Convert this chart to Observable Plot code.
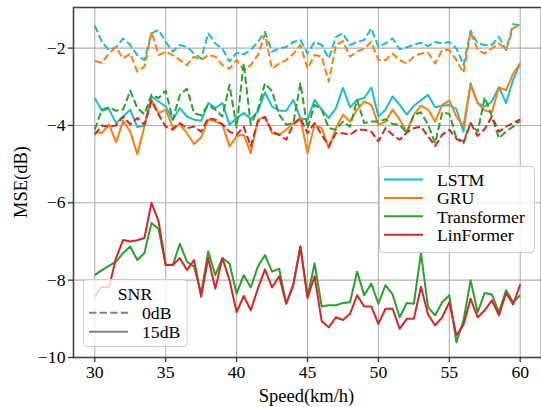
<!DOCTYPE html>
<html>
<head>
<meta charset="utf-8">
<script src="https://cdn.jsdelivr.net/npm/d3@7"></script>
<script src="https://cdn.jsdelivr.net/npm/@observablehq/plot@0.6"></script>
<style>
  body { margin: 0; background: #fff; }
  #chart { width: 541px; height: 407px; }
</style>
</head>
<body>
<div id="chart"></div>
<script>
// Speed grid (km/h), one sample every 0.5 km/h
const speeds = d3.range(30, 60.25, 0.5);

const models = ["LSTM", "GRU", "Transformer", "LinFormer"];
const modelColors = ["#17becf", "#ff7f0e", "#2ca02c", "#d62728"];
const snrLevels = ["0dB", "15dB"];

const xTicks = [30, 35, 40, 45, 50, 55, 60];
const yTicks = [-10, -8, -6, -4, -2];

// MSE (dB) at SNR = 0 dB
const lstm0dB = [
  -1.41, -1.84, -2.05, -1.98, -1.75, -1.92, -2.18, -2.31, -1.62, -1.53,
  -1.84, -2.09, -1.92, -1.97, -2.14, -2.27, -1.62, -1.88, -2.01, -2.35,
  -2.12, -2.16, -2.05, -1.84, -1.58, -2.09, -2.01, -1.97, -1.84, -1.79,
  -2.14, -1.84, -1.92, -2.27, -1.71, -1.62, -1.92, -1.84, -1.79, -1.49,
  -1.97, -1.88, -1.75, -2.03, -1.98, -1.91, -1.86, -1.95, -1.84, -1.88,
  -1.84, -2.01, -2.44, -1.55, -1.88, -1.92, -1.92, -1.71, -2.05, -1.38, -1.41
];
const gru0dB = [
  -2.33, -2.38, -2.14, -1.98, -2.27, -2.14, -2.61, -2.48, -1.58, -2.18,
  -2.09, -2.18, -2.31, -2.44, -2.22, -2.31, -2.18, -2.22, -2.44, -2.53,
  -2.31, -2.57, -2.44, -2.18, -1.64, -2.53, -2.40, -2.31, -2.14, -1.92,
  -2.53, -2.18, -2.22, -2.87, -1.92, -1.82, -2.22, -2.09, -2.01, -1.84,
  -2.31, -2.31, -2.14, -2.31, -2.40, -2.22, -2.14, -2.12, -2.40, -2.05,
  -2.05, -2.31, -2.64, -1.58, -2.05, -2.14, -2.01, -1.88, -2.05, -1.49, -1.38
];
const transformer0dB = [
  -4.11, -3.59, -3.53, -3.62, -3.59, -3.10, -3.55, -3.71, -3.21, -3.29,
  -3.10, -3.85, -3.21, -3.05, -3.68, -3.74, -3.47, -3.59, -3.77, -2.95,
  -4.05, -2.39, -3.98, -3.59, -2.91, -3.12, -3.72, -3.98, -3.94, -2.91,
  -4.07, -3.47, -3.59, -4.07, -4.11, -3.90, -4.03, -3.34, -3.94, -3.90,
  -3.90, -3.84, -3.96, -3.98, -4.20, -3.72, -3.66, -3.98, -4.46, -3.66,
  -3.70, -4.33, -4.41, -3.94, -4.16, -3.27, -3.77, -4.33, -4.16, -4.03, -3.87
];
const linformer0dB = [
  -4.24, -4.00, -4.03, -4.00, -3.77, -3.97, -3.81, -3.98, -3.36, -3.72,
  -4.03, -4.11, -3.94, -4.07, -4.03, -4.16, -3.81, -3.85, -3.97, -4.16,
  -4.24, -4.03, -4.54, -3.90, -3.78, -4.16, -4.24, -4.37, -3.98, -3.81,
  -4.20, -3.94, -4.24, -4.54, -4.20, -4.20, -4.24, -4.11, -4.11, -4.16,
  -4.41, -4.07, -4.24, -4.37, -4.18, -4.07, -4.03, -4.28, -4.53, -4.24,
  -4.11, -4.34, -4.46, -3.94, -4.27, -4.09, -3.77, -4.16, -4.03, -3.94, -3.84
];

// MSE (dB) at SNR = 15 dB
const lstm15dB = [
  -3.29, -3.62, -3.57, -3.94, -3.77, -3.59, -4.04, -4.00, -3.25, -3.38,
  -3.51, -3.85, -3.55, -3.77, -3.85, -3.88, -3.42, -3.55, -3.42, -3.98,
  -3.81, -3.68, -3.83, -3.64, -3.14, -3.51, -3.62, -3.62, -3.34, -3.81,
  -3.85, -3.34, -3.59, -3.81, -3.55, -3.03, -3.53, -3.34, -3.29, -3.02,
  -3.77, -3.59, -3.25, -3.47, -3.72, -3.49, -3.35, -3.21, -3.53, -3.49,
  -3.47, -3.58, -4.16, -2.91, -3.42, -3.51, -3.38, -3.01, -3.42, -2.82, -2.39
];
const gru15dB = [
  -4.16, -4.20, -3.97, -4.43, -3.88, -4.16, -4.74, -4.03, -3.34, -3.68,
  -3.59, -4.05, -3.98, -4.20, -4.48, -4.31, -3.85, -3.90, -3.98, -4.54,
  -4.28, -4.24, -4.72, -3.85, -3.78, -4.20, -4.24, -4.11, -3.94, -3.81,
  -4.72, -3.98, -4.07, -4.59, -4.07, -3.72, -3.90, -3.59, -3.38, -3.47,
  -3.98, -3.90, -3.59, -3.85, -4.16, -3.72, -3.49, -3.59, -3.90, -3.47,
  -3.35, -3.77, -4.01, -2.95, -3.42, -3.61, -3.66, -3.02, -3.09, -2.66, -2.39
];
const transformer15dB = [
  -7.87, -7.74, -7.63, -7.52, -7.30, -7.13, -7.48, -7.30, -6.52, -6.68,
  -7.61, -7.61, -7.06, -7.52, -7.65, -8.35, -7.26, -7.87, -7.43, -7.57,
  -8.35, -7.87, -8.19, -7.65, -7.35, -7.78, -7.70, -8.61, -8.13, -7.13,
  -8.43, -7.57, -8.68, -8.65, -8.65, -8.59, -8.57, -7.78, -8.39, -8.09,
  -8.61, -8.13, -8.37, -8.96, -8.59, -8.61, -7.30, -8.70, -8.91, -8.57,
  -8.39, -9.61, -9.04, -8.00, -8.83, -8.33, -8.37, -8.83, -8.26, -8.57, -8.39
];
const linformer15dB = [
  -8.43, -8.17, -8.19, -7.43, -6.96, -7.00, -6.97, -6.91, -6.00, -6.48,
  -7.61, -7.61, -7.43, -7.74, -7.48, -8.43, -7.43, -8.22, -7.43, -8.00,
  -8.83, -8.41, -8.78, -8.22, -7.72, -8.19, -7.90, -8.61, -8.11, -7.13,
  -8.46, -7.90, -9.06, -9.22, -8.96, -9.03, -8.87, -8.39, -8.68, -8.68,
  -9.13, -8.74, -8.74, -9.26, -9.00, -9.00, -8.17, -8.89, -9.17, -8.96,
  -8.57, -9.43, -9.15, -8.48, -8.96, -8.78, -8.52, -8.91, -8.33, -8.63, -8.11
];

const curves = [
  {model: "LSTM", snr: "0dB", values: lstm0dB},
  {model: "LSTM", snr: "15dB", values: lstm15dB},
  {model: "GRU", snr: "0dB", values: gru0dB},
  {model: "GRU", snr: "15dB", values: gru15dB},
  {model: "Transformer", snr: "0dB", values: transformer0dB},
  {model: "Transformer", snr: "15dB", values: transformer15dB},
  {model: "LinFormer", snr: "0dB", values: linformer0dB},
  {model: "LinFormer", snr: "15dB", values: linformer15dB}
];

const FONT = '"Liberation Serif", "Times New Roman", serif';
const dash = "7.4,3.2";

const lineMarks = curves.map(c => Plot.line(
  speeds.map((s, i) => ({speed: s, mse: c.values[i], model: c.model})),
  {
    x: "speed", y: "mse", stroke: "model",
    strokeWidth: 2, strokeLinejoin: "round", strokeLinecap: "butt",
    strokeDasharray: c.snr === "0dB" ? dash : null
  }
));

const chart = Plot.plot({
  width: 541,
  height: 407,
  marginLeft: 73,
  marginRight: 0,
  marginTop: 7,
  marginBottom: 50,
  style: {fontFamily: FONT, fontSize: "17.7px", color: "#000", background: "#fff"},
  x: {domain: [28.5, 61.5]},
  y: {domain: [-10, -0.95]},
  color: {domain: models, range: modelColors},
  marks: [
    Plot.gridX(xTicks, {stroke: "#b0b0b0", strokeOpacity: 1, strokeWidth: 1.1}),
    Plot.gridY(yTicks, {stroke: "#b0b0b0", strokeOpacity: 1, strokeWidth: 1.1}),
    ...lineMarks,
    Plot.frame({stroke: "#444", strokeWidth: 1.6}),
    Plot.axisX(xTicks, {tickSize: 5, tickPadding: 3, label: null, stroke: "#333", strokeWidth: 1.3}),
    Plot.axisY(yTicks, {tickSize: 5, tickPadding: 3, label: null, stroke: "#333", strokeWidth: 1.3})
  ]
});

document.getElementById("chart").appendChild(chart);

// Axis titles and legends drawn on top of the plot area
const svg = d3.select(chart);
const xScale = chart.scale("x"), yScale = chart.scale("y");
const plotLeft = xScale.range[0], plotRight = xScale.range[1];
const plotTop = yScale.range[1], plotBottom = yScale.range[0];

function addText(x, y, label, anchor, size = "17.7px") {
  return svg.append("text")
    .attr("x", x).attr("y", y)
    .attr("text-anchor", anchor)
    .style("font-family", FONT).style("font-size", size).attr("fill", "#000")
    .text(label);
}

addText((plotLeft + plotRight) / 2 - 0.5, 402, "Speed(km/h)", "middle", "18.5px");
addText(0, 0, "MSE(dB)", "middle", "18.5px")
  .attr("transform", `translate(27,${(plotTop + plotBottom) / 2}) rotate(-90)`);

function legendBox(x, y, w, h) {
  svg.append("rect")
    .attr("x", x).attr("y", y).attr("width", w).attr("height", h)
    .attr("rx", 3.5).attr("ry", 3.5)
    .attr("fill", "#fff").attr("fill-opacity", 0.8)
    .attr("stroke", "#cccccc").attr("stroke-width", 1);
}
function legendEntry(x, y, color, dashed, label) {
  svg.append("line")
    .attr("x1", x).attr("x2", x + 39).attr("y1", y).attr("y2", y)
    .attr("stroke", color).attr("stroke-width", 2)
    .attr("stroke-dasharray", dashed ? dash : null);
  addText(x + 53, y + 6.3, label, "start");
}

// Model legend
legendBox(379.5, 166.5, 155, 86);
models.forEach((m, i) => legendEntry(384, 179.5 + i * 18.4, modelColors[i], false, m));

// SNR legend
legendBox(83.5, 279.5, 103.5, 67);
addText(135, 300, "SNR", "middle");
snrLevels.forEach((s, i) => legendEntry(89, 312.7 + i * 19, "#808080", s === "0dB", s));
</script>
</body>
</html>
